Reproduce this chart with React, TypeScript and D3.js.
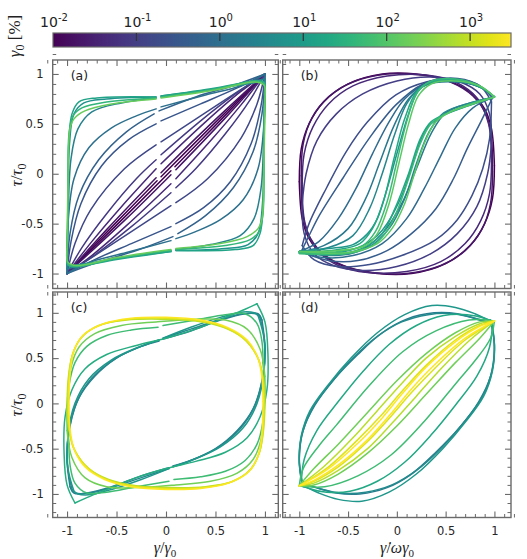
import * as d3 from 'd3';
import { useEffect, useRef } from 'react';

type P = [number, number];
type Pt = P | null;

// colour bar: log10 of strain amplitude gamma0 [%]
const cbarDecades = [-2, -1, 0, 1, 2, 3];
const cbarTop = 3.49;

const majorTicks = [-1, -0.5, 0, 0.5, 1];
const minorTicks = d3.range(-12, 13).map(i => i / 10).filter(v => Math.abs(v * 2 - Math.round(v * 2)) > 1e-6);

// ---- (a) tau vs gamma, upper branch (lower branch = point mirror), null = gap in record
const gammaA = [0.01, 0.02, 0.04, 0.08, 0.15, 0.3, 0.5, 1.0, 2.5, 6, 15, 40, 160];
const upperA: Pt[][] = [
  [[-1, -1], [-0.5, -0.485], [-0.09, -0.07], null, [-0.05, -0.03], [0.5, 0.515], [1, 1]],
  [[-1, -1], [-0.6, -0.56], [-0.1, -0.04], null, [-0.05, 0.01], [0.4, 0.45], [1, 1]],
  [[-1, -1], [-0.75, -0.68], [-0.45, -0.33], [-0.1, 0.05], null, [-0.05, 0.1], [0.4, 0.52], [0.75, 0.82], [1, 1]],
  [[-1, -1], [-0.85, -0.74], [-0.6, -0.4], [-0.3, -0.05], [-0.1, 0.14], null, [-0.05, 0.19], [0.35, 0.53], [0.7, 0.8], [1, 1]],
  [[-1, -1], [-0.92, -0.7], [-0.76, -0.36], [-0.42, 0.05], [-0.1, 0.29], null, [-0.05, 0.32], [0.35, 0.58], [0.72, 0.82], [1, 1]],
  [[-1, -1], [-0.96, -0.68], [-0.86, -0.3], [-0.65, 0.08], [-0.38, 0.34], [-0.1, 0.5], null, [-0.05, 0.53], [0.35, 0.7], [0.72, 0.86], [1, 1]],
  [[-1, -1], [-0.97, -0.6], [-0.88, -0.22], [-0.68, 0.14], [-0.4, 0.42], [-0.12, 0.6], null, [-0.07, 0.63], [0.3, 0.77], [0.7, 0.89], [1, 1]],
  [[-1, -1], [-0.99, -0.5], [-0.93, -0.05], [-0.78, 0.26], [-0.55, 0.46], [-0.3, 0.58], [-0.1, 0.65], null, [-0.05, 0.67], [0.4, 0.79], [0.75, 0.88], [1, 1]],
  [[-1, -0.95], [-0.99, -0.5], [-0.96, 0.15], [-0.89, 0.45], [-0.75, 0.62], [-0.45, 0.71], [-0.1, 0.76], null, [-0.05, 0.77], [0.5, 0.85], [0.88, 0.93], [1, 0.95]],
  [[-1, -0.9], [-0.99, -0.4], [-0.975, 0.3], [-0.93, 0.6], [-0.83, 0.71], [-0.6, 0.75], [-0.1, 0.77], null, [-0.05, 0.78], [0.5, 0.85], [0.88, 0.91], [0.98, 0.92], [1, 0.9]],
  [[-1, -0.85], [-0.99, -0.3], [-0.98, 0.35], [-0.95, 0.6], [-0.88, 0.72], [-0.7, 0.76], [-0.1, 0.77], null, [-0.05, 0.78], [0.5, 0.86], [0.9, 0.93], [0.99, 0.92], [1, 0.85]],
  [[-1, -0.8], [-0.99, -0.2], [-0.98, 0.4], [-0.94, 0.58], [-0.85, 0.66], [-0.6, 0.72], [-0.1, 0.76], null, [-0.05, 0.77], [0.5, 0.85], [0.9, 0.93], [0.99, 0.91], [1, 0.8]],
  [[-1, -0.75], [-0.99, -0.1], [-0.97, 0.45], [-0.93, 0.55], [-0.82, 0.63], [-0.55, 0.7], [-0.1, 0.75], null, [-0.05, 0.76], [0.5, 0.84], [0.9, 0.92], [0.99, 0.89], [1, 0.75]],
];

// ---- (b) tau vs shear rate, upper and lower branches (null lower = point mirror)
const gammaB = [0.01, 0.02, 0.04, 0.1, 0.2, 0.4, 0.8, 1.6, 3.5, 8, 20, 50, 120];
const upperB: Pt[][] = [
  [[-1, -0.08], [-0.98, 0.25], [-0.9, 0.5], [-0.75, 0.72], [-0.5, 0.9], [-0.15, 1.0], [0.2, 1.0], [0.5, 0.94], [0.75, 0.82], [0.9, 0.65], [0.97, 0.45], [1, 0.08]],
  [[-0.98, -0.02], [-0.96, 0.3], [-0.87, 0.56], [-0.7, 0.77], [-0.45, 0.92], [-0.1, 1.0], [0.25, 0.99], [0.55, 0.92], [0.78, 0.78], [0.92, 0.58], [0.97, 0.35], [0.98, 0.02]],
  [[-0.97, -0.12], [-0.95, 0.2], [-0.86, 0.47], [-0.7, 0.7], [-0.45, 0.88], [-0.1, 0.98], [0.3, 0.99], [0.6, 0.92], [0.82, 0.76], [0.94, 0.5], [0.97, 0.12]],
  [[-0.97, -0.3], [-0.93, 0.0], [-0.82, 0.33], [-0.62, 0.6], [-0.35, 0.8], [0.0, 0.93], [0.35, 0.97], [0.65, 0.92], [0.85, 0.8], [0.95, 0.6], [0.97, 0.3]],
  [[-0.97, -0.72], [-0.9, -0.5], [-0.72, -0.14], [-0.52, 0.22], [-0.3, 0.52], [-0.01, 0.79], [0.3, 0.92], [0.6, 0.95], [0.85, 0.88], [0.97, 0.72]],
  [[-0.98, -0.78], [-0.9, -0.62], [-0.79, -0.41], [-0.55, -0.04], [-0.28, 0.36], [-0.01, 0.69], [0.27, 0.9], [0.55, 0.96], [0.82, 0.9], [0.98, 0.76]],
  [[-1, -0.78], [-0.8, -0.68], [-0.6, -0.45], [-0.42, -0.15], [-0.25, 0.2], [-0.08, 0.52], [0.08, 0.75], [0.3, 0.9], [0.6, 0.93], [0.85, 0.87], [1, 0.77]],
  [[-1, -0.78], [-0.75, -0.72], [-0.5, -0.55], [-0.32, -0.25], [-0.18, 0.1], [-0.03, 0.48], [0.12, 0.75], [0.3, 0.89], [0.6, 0.92], [0.85, 0.87], [1, 0.77]],
  [[-1, -0.78], [-0.7, -0.74], [-0.45, -0.62], [-0.28, -0.35], [-0.15, 0.0], [-0.02, 0.4], [0.1, 0.7], [0.25, 0.87], [0.55, 0.93], [0.85, 0.87], [1, 0.77]],
  [[-1, -0.78], [-0.7, -0.75], [-0.45, -0.71], [-0.3, -0.6], [-0.2, -0.45], [-0.1, -0.15], [0.0, 0.2], [0.12, 0.6], [0.22, 0.83], [0.35, 0.92], [0.6, 0.94], [0.85, 0.87], [1, 0.77]],
  [[-1, -0.79], [-0.6, -0.76], [-0.38, -0.7], [-0.25, -0.55], [-0.13, -0.25], [-0.03, 0.15], [0.08, 0.55], [0.2, 0.82], [0.35, 0.92], [0.6, 0.94], [0.85, 0.87], [1, 0.77]],
  [[-1, -0.8], [-0.6, -0.78], [-0.35, -0.72], [-0.22, -0.58], [-0.1, -0.28], [0.0, 0.12], [0.1, 0.52], [0.2, 0.8], [0.33, 0.92], [0.6, 0.95], [0.85, 0.88], [1, 0.77]],
  [[-1, -0.78], [-0.6, -0.77], [-0.32, -0.72], [-0.2, -0.6], [-0.08, -0.3], [0.02, 0.1], [0.12, 0.5], [0.22, 0.78], [0.35, 0.9], [0.6, 0.93], [0.85, 0.88], [1, 0.77]],
];
const lowerB: (Pt[] | null)[] = [
  null, null, null, null,
  [[-0.97, -0.72], [-0.85, -0.86], [-0.6, -0.93], [-0.28, -0.91], [0.05, -0.82], [0.4, -0.66], [0.62, -0.46], [0.77, -0.22], [0.88, 0.05], [0.95, 0.35], [0.97, 0.72]],
  [[-0.98, -0.78], [-0.7, -0.87], [-0.4, -0.87], [-0.1, -0.77], [0.15, -0.6], [0.4, -0.35], [0.58, -0.05], [0.72, 0.25], [0.86, 0.52], [0.98, 0.76]],
  [[-1, -0.78], [-0.75, -0.84], [-0.45, -0.82], [-0.15, -0.7], [0.1, -0.45], [0.28, -0.15], [0.45, 0.18], [0.6, 0.46], [0.78, 0.66], [1, 0.77]],
  [[-1, -0.78], [-0.7, -0.82], [-0.4, -0.78], [-0.15, -0.6], [0.05, -0.3], [0.2, 0.05], [0.35, 0.4], [0.5, 0.61], [0.75, 0.71], [1, 0.77]],
  [[-1, -0.78], [-0.6, -0.8], [-0.3, -0.74], [-0.08, -0.55], [0.08, -0.25], [0.2, 0.1], [0.33, 0.42], [0.48, 0.61], [0.75, 0.71], [1, 0.77]],
  [[-1, -0.78], [-0.6, -0.79], [-0.35, -0.72], [-0.2, -0.62], [-0.1, -0.5], [0.05, -0.22], [0.18, 0.15], [0.3, 0.45], [0.45, 0.57], [0.7, 0.67], [1, 0.77]],
  [[-1, -0.79], [-0.55, -0.8], [-0.3, -0.72], [-0.15, -0.6], [-0.02, -0.35], [0.12, 0.0], [0.24, 0.35], [0.35, 0.52], [0.5, 0.6], [0.75, 0.69], [1, 0.77]],
  [[-1, -0.8], [-0.5, -0.8], [-0.25, -0.72], [-0.12, -0.6], [0.0, -0.38], [0.12, -0.05], [0.24, 0.3], [0.35, 0.5], [0.5, 0.6], [0.75, 0.7], [1, 0.77]],
  [[-1, -0.78], [-0.5, -0.79], [-0.2, -0.7], [-0.05, -0.55], [0.08, -0.3], [0.18, 0.0], [0.28, 0.3], [0.4, 0.52], [0.55, 0.62], [0.78, 0.7], [1, 0.77]],
];

// ---- (c) tau vs gamma, second set
const gammaC = [2, 4, 8, 25, 60, 200, 800, 1600, 3000];
const upperC: Pt[][] = [
  [[-0.97, -0.92], [-1.0, -0.6], [-0.97, -0.25], [-0.88, 0.06], [-0.72, 0.3], [-0.5, 0.5], [-0.25, 0.63], [-0.07, 0.69], null, [-0.03, 0.71], [0.25, 0.8], [0.55, 0.92], [0.8, 0.99], [0.93, 0.99], [0.97, 0.92]],
  [[-0.95, -0.95], [-1.0, -0.65], [-0.98, -0.3], [-0.9, 0.02], [-0.75, 0.28], [-0.52, 0.49], [-0.25, 0.63], [-0.07, 0.7], null, [-0.03, 0.72], [0.25, 0.82], [0.55, 0.93], [0.78, 0.99], [0.91, 0.99], [0.95, 0.95]],
  [[-0.93, -0.97], [-0.99, -0.72], [-0.99, -0.35], [-0.92, 0.0], [-0.78, 0.27], [-0.55, 0.48], [-0.28, 0.62], [-0.07, 0.7], null, [-0.03, 0.72], [0.25, 0.84], [0.55, 0.95], [0.78, 1.01], [0.89, 1.0], [0.93, 0.97]],
  [[-0.92, -1.1], [-1.0, -0.9], [-1.03, -0.55], [-1.02, -0.15], [-0.95, 0.15], [-0.82, 0.38], [-0.6, 0.54], [-0.3, 0.64], [0.0, 0.72], [0.3, 0.82], [0.6, 0.95], [0.8, 1.04], [0.92, 1.1]],
  [[-0.98, -0.45], [-1.0, -0.1], [-0.98, 0.2], [-0.92, 0.45], [-0.8, 0.63], [-0.6, 0.75], [-0.35, 0.81], [-0.08, 0.84], null, [-0.03, 0.86], [0.3, 0.92], [0.6, 0.98], [0.8, 0.99], [0.92, 0.88], [0.97, 0.68], [0.98, 0.45]],
  [[-1, -0.3], [-0.99, 0.1], [-0.96, 0.4], [-0.88, 0.62], [-0.72, 0.77], [-0.45, 0.86], [-0.1, 0.9], [0.3, 0.93], [0.6, 0.92], [0.82, 0.82], [0.95, 0.6], [1, 0.3]],
  [[-1, -0.1], [-0.99, 0.25], [-0.95, 0.52], [-0.86, 0.72], [-0.68, 0.86], [-0.4, 0.92], [-0.05, 0.93], [0.3, 0.91], [0.58, 0.84], [0.78, 0.72], [0.92, 0.52], [0.98, 0.3], [1, 0.1]],
  [[-0.99, -0.05], [-0.98, 0.3], [-0.94, 0.56], [-0.84, 0.75], [-0.65, 0.87], [-0.37, 0.93], [0, 0.94], [0.35, 0.91], [0.62, 0.83], [0.82, 0.68], [0.94, 0.48], [0.98, 0.25], [0.99, 0.05]],
  [[-0.98, -0.02], [-0.97, 0.32], [-0.93, 0.58], [-0.83, 0.76], [-0.63, 0.88], [-0.35, 0.94], [0, 0.95], [0.35, 0.92], [0.62, 0.84], [0.82, 0.7], [0.93, 0.5], [0.97, 0.28], [0.98, 0.02]],
];

// ---- (d) tau vs shear rate, second set
const gammaD = [2, 4, 8, 20, 60, 200, 800, 1600, 3000];
const upperD: Pt[][] = [
  [[-0.98, -0.85], [-1.0, -0.6], [-0.96, -0.3], [-0.84, -0.02], [-0.64, 0.27], [-0.4, 0.54], [-0.15, 0.78], [0.1, 0.93], [0.38, 1.0], [0.62, 0.99], [0.82, 0.93], [0.94, 0.88], [0.98, 0.85]],
  [[-0.97, -0.88], [-1.0, -0.62], [-0.97, -0.33], [-0.87, -0.06], [-0.68, 0.22], [-0.45, 0.5], [-0.2, 0.74], [0.05, 0.9], [0.32, 0.98], [0.58, 0.99], [0.8, 0.94], [0.93, 0.9], [0.97, 0.88]],
  [[-0.96, -0.92], [-1.0, -0.66], [-0.98, -0.36], [-0.89, -0.08], [-0.7, 0.21], [-0.47, 0.5], [-0.2, 0.78], [0.08, 0.98], [0.36, 1.08], [0.6, 1.06], [0.8, 0.99], [0.92, 0.93], [0.96, 0.92]],
  [[-0.98, -0.9], [-0.95, -0.62], [-0.82, -0.3], [-0.6, 0.02], [-0.35, 0.35], [-0.08, 0.65], [0.2, 0.86], [0.48, 0.97], [0.72, 0.98], [0.9, 0.94], [0.98, 0.9]],
  [[-1, -0.91], [-0.96, -0.72], [-0.8, -0.47], [-0.62, -0.24], [-0.28, 0.2], [0.06, 0.57], [0.4, 0.8], [0.74, 0.92], [1, 0.91]],
  [[-1, -0.91], [-0.85, -0.72], [-0.6, -0.45], [-0.3, -0.1], [0.0, 0.25], [0.3, 0.55], [0.6, 0.78], [0.85, 0.9], [1, 0.91]],
  [[-1, -0.91], [-0.75, -0.7], [-0.45, -0.38], [-0.2, -0.08], [0.05, 0.22], [0.3, 0.5], [0.6, 0.74], [0.85, 0.88], [1, 0.91]],
  [[-1, -0.91], [-0.7, -0.7], [-0.4, -0.4], [-0.15, -0.12], [0.05, 0.13], [0.3, 0.42], [0.6, 0.7], [0.85, 0.86], [1, 0.91]],
  [[-1, -0.91], [-0.7, -0.72], [-0.4, -0.44], [-0.15, -0.16], [0.05, 0.1], [0.3, 0.4], [0.6, 0.68], [0.85, 0.85], [1, 0.91]],
];

const mirror = (u: Pt[]): Pt[] => u.slice().reverse().map(p => (p ? [-p[0], -p[1]] as P : null));

export default function App() {
  const ref = useRef<SVGSVGElement | null>(null);

  useEffect(() => {
    if (!ref.current) return;
    const svg = d3.select(ref.current);
    svg.selectAll('*').remove();

    const color = d3.scaleSequential(d3.interpolateViridis).domain([-2, cbarTop]);
    const spine = '#6a6a6a';
    const sans = 'DejaVu Sans, sans-serif';
    const serif = 'Liberation Serif, DejaVu Serif, serif';

    // colour bar
    const cx = d3.scaleLinear().domain([-2, cbarTop]).range([53, 511]);
    const defs = svg.append('defs');
    const grad = defs.append('linearGradient').attr('id', 'cbar').attr('x1', '0%').attr('x2', '100%');
    d3.range(0, 1.0001, 0.05).forEach(t => {
      grad.append('stop').attr('offset', `${t * 100}%`).attr('stop-color', d3.interpolateViridis(t));
    });
    svg.append('rect')
      .attr('x', 53).attr('y', 33).attr('width', 458).attr('height', 14)
      .attr('fill', 'url(#cbar)').attr('stroke', spine).attr('stroke-width', 1.2);
    cbarDecades.forEach(d => {
      if (d > -2) {
        svg.append('line')
          .attr('x1', cx(d)).attr('x2', cx(d)).attr('y1', 33).attr('y2', 41)
          .attr('stroke', '#333').attr('stroke-width', 1.2);
      }
      const t = svg.append('text')
        .attr('x', cx(d) + 1).attr('y', 27)
        .attr('text-anchor', 'middle')
        .attr('font-family', sans).attr('font-size', 14).attr('fill', '#222');
      t.append('tspan').text('10');
      t.append('tspan').attr('dy', -6).attr('font-size', 10).text(String(d));
    });

    const cl = svg.append('text')
      .attr('transform', 'translate(20,36) rotate(-90)')
      .attr('text-anchor', 'middle')
      .attr('font-family', serif).attr('font-size', 17).attr('fill', '#222');
    cl.append('tspan').attr('font-style', 'italic').text('γ');
    cl.append('tspan').attr('dy', 4).attr('font-size', 12).text('0');
    cl.append('tspan').attr('dy', -4).text(' [%]');

    const line = d3.line<Pt>()
      .defined(d => d !== null)
      .curve(d3.curveCatmullRom.alpha(0.5));

    const panels = [
      { id: 'a', gamma: gammaA, upper: upperA, lower: upperA.map(() => null), col: 0, row: 0 },
      { id: 'b', gamma: gammaB, upper: upperB, lower: lowerB, col: 1, row: 0 },
      { id: 'c', gamma: gammaC, upper: upperC, lower: upperC.map(() => null), col: 0, row: 1 },
      { id: 'd', gamma: gammaD, upper: upperD, lower: upperD.map(() => null), col: 1, row: 1 },
    ];
    const colRange = [[52.7, 278.3], [282.7, 511]];
    const colDomain = [[-1.145, 1.135], [-1.17, 1.17]];
    const rowRange = [[288.5, 60], [517.5, 292]];
    const rowDomain = [[-1.15, 1.14], [-1.26, 1.23]];

    panels.forEach(p => {
      const x = d3.scaleLinear().domain(colDomain[p.col]).range(colRange[p.col]);
      const y = d3.scaleLinear().domain(rowDomain[p.row]).range(rowRange[p.row]);
      const [x0, x1] = colRange[p.col];
      const [y1, y0] = rowRange[p.row];

      defs.append('clipPath').attr('id', `clip-${p.id}`)
        .append('rect').attr('x', x0).attr('y', y0).attr('width', x1 - x0).attr('height', y1 - y0);

      const g = svg.append('g').attr('clip-path', `url(#clip-${p.id})`);
      line.x(d => x(d![0])).y(d => y(d![1]));
      p.upper.forEach((u, i) => {
        const c = color(Math.log10(p.gamma[i]));
        const lo = p.lower[i] ?? mirror(u);
        [u, lo].forEach(branch => {
          g.append('path')
            .attr('d', line(branch))
            .attr('fill', 'none')
            .attr('stroke', c)
            .attr('stroke-width', 1.5)
            .attr('stroke-linejoin', 'round')
            .attr('stroke-linecap', 'round');
        });
      });

      // axes, ticks pointing in on all four sides
      const fmt = (d: d3.NumberValue) => String(d);
      const axes = [
        { ax: d3.axisBottom(x), tr: `translate(0,${y1})`, labels: p.row === 1 },
        { ax: d3.axisTop(x), tr: `translate(0,${y0})`, labels: false },
        { ax: d3.axisLeft(y), tr: `translate(${x0},0)`, labels: p.col === 0 },
        { ax: d3.axisRight(y), tr: `translate(${x1},0)`, labels: false },
      ];
      axes.forEach(({ ax, tr, labels }) => {
        const major = svg.append('g').attr('transform', tr)
          .call(ax.tickValues(majorTicks).tickSize(-6).tickPadding(9).tickFormat(labels ? fmt : () => ''));
        major.select('.domain').remove();
        major.selectAll('line').attr('stroke', spine).attr('stroke-width', 1.1);
        major.selectAll('text').attr('font-family', sans).attr('font-size', 11.5).attr('fill', '#262626');
        const minor = svg.append('g').attr('transform', tr)
          .call(ax.tickValues(minorTicks).tickSize(-3.5).tickFormat(() => ''));
        minor.select('.domain').remove();
        minor.selectAll('line').attr('stroke', spine).attr('stroke-width', 1);
      });

      svg.append('rect')
        .attr('x', x0).attr('y', y0).attr('width', x1 - x0).attr('height', y1 - y0)
        .attr('fill', 'none').attr('stroke', spine).attr('stroke-width', 1.4);

      svg.append('text')
        .attr('x', x0 + 18).attr('y', y0 + 20)
        .attr('font-family', sans).attr('font-size', 12.5).attr('fill', '#222')
        .text(`(${p.id})`);
    });

    // axis titles
    [175, 405].forEach(cy => {
      const t = svg.append('text')
        .attr('transform', `translate(22,${cy}) rotate(-90)`)
        .attr('text-anchor', 'middle')
        .attr('font-family', serif).attr('font-size', 17).attr('fill', '#222');
      t.append('tspan').attr('font-style', 'italic').text('τ');
      t.append('tspan').text('/');
      t.append('tspan').attr('font-style', 'italic').text('τ');
      t.append('tspan').attr('dy', 4).attr('font-size', 12).text('0');
    });
    const xl = svg.append('text')
      .attr('x', 165).attr('y', 553).attr('text-anchor', 'middle')
      .attr('font-family', serif).attr('font-size', 16).attr('fill', '#222');
    xl.append('tspan').attr('font-style', 'italic').text('γ');
    xl.append('tspan').text('/');
    xl.append('tspan').attr('font-style', 'italic').text('γ');
    xl.append('tspan').attr('dy', 4).attr('font-size', 11).text('0');

    const xr = svg.append('text')
      .attr('x', 397).attr('y', 553).attr('text-anchor', 'middle')
      .attr('font-family', serif).attr('font-size', 16).attr('fill', '#222');
    xr.append('tspan').attr('font-style', 'italic').text('γ̇');
    xr.append('tspan').text('/');
    xr.append('tspan').attr('font-style', 'italic').text('ωγ');
    xr.append('tspan').attr('dy', 4).attr('font-size', 11).text('0');
  }, []);

  return (
    <svg
      ref={ref}
      width={527}
      height={559}
      viewBox="0 0 527 559"
      style={{ position: 'absolute', left: 0, top: 0, background: '#fff' }}
    />
  );
}
